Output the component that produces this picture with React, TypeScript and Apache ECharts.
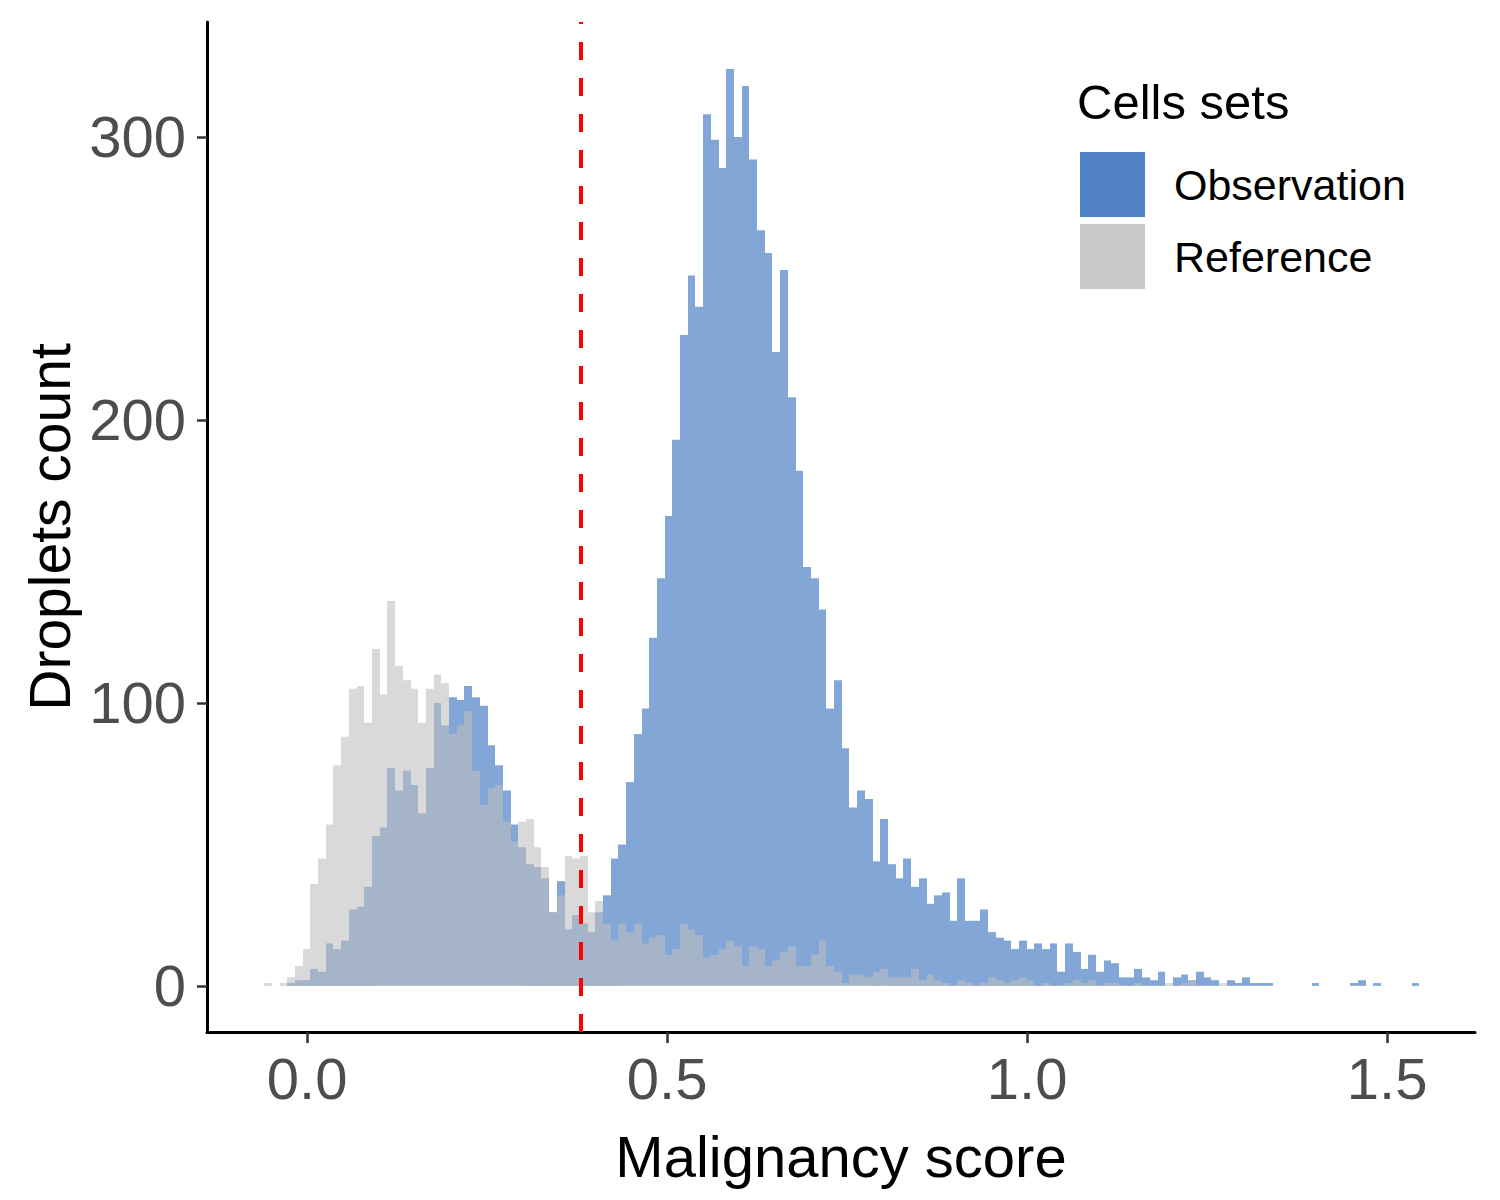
import React, { useEffect, useRef } from "react";
import * as echarts from "echarts";

// Histogram bins (left edge of first bin, common bin width) in malignancy-score units
const binStart = -0.0596;
const binWidth = 0.010696;

// Droplet counts per bin, 150 bins
const observation = [
  0, 0, 0, 1, 2, 2, 6, 5, 15, 13,
  16, 27, 28, 35, 53, 56, 77, 69, 76, 71,
  61, 77, 100, 92, 102, 101, 106, 102, 99, 85,
  78, 69, 57, 49, 43, 42, 38, 26, 37, 20,
  25, 22, 19, 26, 32, 45, 50, 72, 89, 98,
  123, 144, 166, 193, 230, 251, 240, 308, 299, 289,
  324, 300, 318, 292, 267, 259, 224, 253, 208, 182,
  148, 144, 133, 98, 108, 84, 63, 69, 66, 44,
  59, 43, 38, 45, 35, 38, 29, 32, 33, 23,
  38, 23, 23, 27, 19, 17, 16, 13, 16, 13,
  15, 13, 15, 5, 15, 12, 6, 11, 5, 9,
  8, 3, 3, 6, 3, 2, 5, 0, 3, 4,
  2, 5, 3, 2, 0, 2, 1, 3, 1, 1,
  1, 0, 0, 0, 0, 0, 1, 0, 0, 0,
  0, 1, 2, 0, 1, 0, 0, 0, 0, 1,
];

const reference = [
  1, 0, 1, 3, 7, 13, 36, 45, 57, 78,
  88, 105, 106, 93, 119, 103, 136, 113, 108, 105,
  93, 105, 110, 107, 89, 92, 97, 76, 64, 70,
  71, 58, 51, 58, 59, 49, 42, 26, 32, 46,
  45, 46, 26, 30, 22, 16, 22, 19, 22, 15,
  17, 18, 11, 13, 22, 20, 18, 10, 11, 13,
  16, 14, 7, 14, 13, 7, 9, 12, 14, 7,
  7, 11, 16, 7, 5, 1, 4, 4, 3, 5,
  6, 3, 3, 3, 6, 2, 4, 2, 1, 0,
  2, 1, 0, 1, 3, 2, 1, 2, 3, 2,
  0, 1, 0, 0, 1, 2, 1, 2, 0, 1,
  1, 0, 0, 1, 0, 0, 0, 1, 0, 1,
  2, 0, 0, 0, 1, 0, 0, 0, 0, 0,
  0, 0, 0, 0, 0, 0, 0, 0, 0, 0,
  0, 0, 0, 0, 0, 0, 0, 0, 0, 0,
];

const seriesNames = ["Observation", "Reference"];
const legendTitle = "Cells sets";
const thresholdScore = 0.378;
const xTicks = [0, 0.5, 1.0, 1.5];
const yTicks = [0, 100, 200, 300];
const xRange = [-0.139, 1.622];
const yRange = [-16.3, 340.6];

const FONT = "Liberation Sans, Arial, Helvetica, sans-serif";

function toBins(counts: number[]) {
  return counts.map((c, i) => [
    binStart + i * binWidth,
    binStart + (i + 1) * binWidth,
    c,
  ]);
}

export default function App() {
  const ref = useRef<HTMLDivElement>(null);

  useEffect(() => {
    document.body.style.margin = "0";
    const chart = echarts.init(ref.current as HTMLDivElement, null, {
      renderer: "svg",
    });

    const renderBar = (fill: string) => (params: any, api: any) => {
      const y = api.value(2);
      if (!y) return null;
      const a = api.coord([api.value(0), y]);
      const b = api.coord([api.value(1), 0]);
      const x0 = Math.round(a[0]);
      const x1 = Math.round(b[0]);
      return {
        type: "rect",
        shape: { x: x0, y: a[1], width: x1 - x0, height: b[1] - a[1] },
        style: { fill },
      };
    };

    chart.setOption({
      animation: false,
      backgroundColor: "#ffffff",
      textStyle: { fontFamily: FONT },
      grid: { left: 207, right: 25, top: 22, bottom: 168, containLabel: false },
      xAxis: {
        type: "value",
        min: xRange[0],
        max: xRange[1],
        name: "Malignancy score",
        nameLocation: "middle",
        nameGap: 95,
        nameTextStyle: { fontSize: 58, color: "#000000", fontFamily: FONT },
        splitLine: { show: false },
        axisLine: {
          show: true,
          onZero: false,
          lineStyle: { color: "#000000", width: 3 },
        },
        axisTick: {
          show: true,
          length: 11,
          customValues: xTicks,
          lineStyle: { color: "#333333", width: 2.5 },
        },
        axisLabel: {
          customValues: xTicks,
          formatter: (v: number) => v.toFixed(1),
          fontSize: 58,
          color: "#4D4D4D",
          margin: 17,
          fontFamily: FONT,
        },
      },
      yAxis: {
        type: "value",
        min: yRange[0],
        max: yRange[1],
        name: "Droplets count",
        nameLocation: "middle",
        nameGap: 116,
        nameTextStyle: { fontSize: 57, color: "#000000", fontFamily: FONT },
        splitLine: { show: false },
        axisLine: {
          show: true,
          onZero: false,
          lineStyle: { color: "#000000", width: 3 },
        },
        axisTick: {
          show: true,
          length: 10,
          customValues: yTicks,
          lineStyle: { color: "#333333", width: 2.5 },
        },
        axisLabel: {
          customValues: yTicks,
          fontSize: 58,
          color: "#4D4D4D",
          margin: 21,
          fontFamily: FONT,
        },
      },
      legend: {
        orient: "vertical",
        left: 1080,
        top: 152,
        padding: 0,
        itemWidth: 65,
        itemHeight: 65,
        itemGap: 7,
        icon: "rect",
        selectedMode: false,
        textStyle: {
          fontSize: 43,
          color: "#000000",
          fontFamily: FONT,
          padding: [0, 0, 0, 24],
        },
        data: [
          { name: seriesNames[0], itemStyle: { color: "#4F81C4" } },
          { name: seriesNames[1], itemStyle: { color: "#C8C8C8" } },
        ],
      },
      graphic: [
        {
          type: "text",
          left: 1077,
          top: 77,
          style: {
            text: legendTitle,
            fontSize: 49,
            fill: "#000000",
            fontFamily: FONT,
          },
        },
      ],
      series: [
        {
          name: seriesNames[0],
          type: "custom",
          itemStyle: { color: "#4F81C4" },
          encode: { x: [0, 1], y: 2 },
          renderItem: renderBar("rgba(79,129,196,0.71)"),
          data: toBins(observation),
          z: 2,
        },
        {
          name: seriesNames[1],
          type: "custom",
          itemStyle: { color: "#C8C8C8" },
          encode: { x: [0, 1], y: 2 },
          renderItem: renderBar("rgba(190,190,190,0.59)"),
          data: toBins(reference),
          z: 3,
          markLine: {
            silent: true,
            symbol: "none",
            label: { show: false },
            lineStyle: { color: "#FF0000", width: 4, type: [18, 18] },
            data: [{ xAxis: thresholdScore }],
          },
        },
      ],
    });

    return () => chart.dispose();
  }, []);

  return <div ref={ref} style={{ width: 1500, height: 1200 }} />;
}
